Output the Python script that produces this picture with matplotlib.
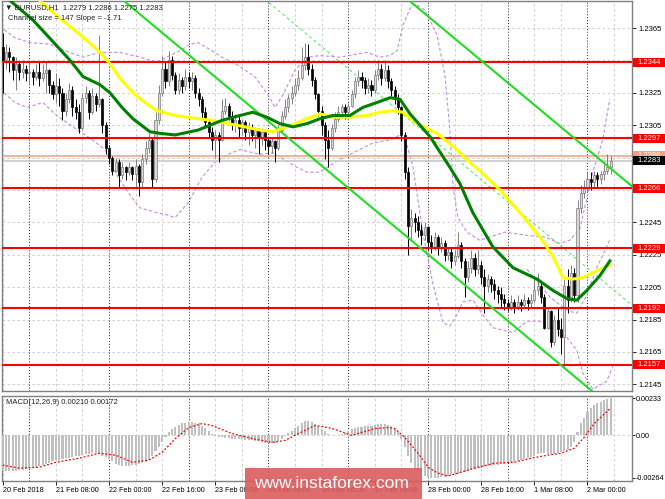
import matplotlib
matplotlib.use("Agg")
import matplotlib.pyplot as plt
import matplotlib.transforms as mtransforms
from matplotlib.patches import Rectangle

plt.rcParams['font.family'] = ['Liberation Sans', 'DejaVu Sans']

# ---------------- data (EURUSD H1, 20 Feb 16:00 .. 2 Mar 07:00) ----------------
first_open = 1.2353
closes = [
    1.2345, 1.2350, 1.2347, 1.2339, 1.2343, 1.2338, 1.2340, 1.2337,
    1.2338, 1.2335, 1.2338, 1.2334, 1.2337, 1.2339, 1.2330, 1.2324,
    1.2329, 1.2325, 1.2314, 1.2321, 1.2327, 1.2316, 1.2313, 1.2303,
    1.2322, 1.2325, 1.2313, 1.2323, 1.2318, 1.2321, 1.2305, 1.2291,
    1.2285, 1.2277, 1.2282, 1.2274, 1.2279, 1.2276, 1.2279, 1.2275,
    1.2280, 1.2270, 1.2284, 1.2291, 1.2296, 1.2272, 1.2308, 1.2325,
    1.2340, 1.2332, 1.2345, 1.2336, 1.2327, 1.2333, 1.2329, 1.2335,
    1.2332, 1.2334, 1.2325, 1.2321, 1.2313, 1.2307, 1.2301, 1.2296,
    1.2299, 1.2296, 1.2314, 1.2317, 1.2311, 1.2305, 1.2308, 1.2303,
    1.2307, 1.2301, 1.2304, 1.2299, 1.2302, 1.2297, 1.2301, 1.2296,
    1.2292, 1.2295, 1.2291, 1.2302, 1.2311, 1.2316, 1.2322, 1.2325,
    1.2330, 1.2334, 1.2342, 1.2347, 1.2340, 1.2333, 1.2324, 1.2314,
    1.2305, 1.2296, 1.2291, 1.2303, 1.2309, 1.2313, 1.2316, 1.2313,
    1.2317, 1.2324, 1.2332, 1.2335, 1.2333, 1.2328, 1.2330, 1.2327,
    1.2336, 1.2340, 1.2334, 1.2339, 1.2332, 1.2327, 1.2322, 1.2316,
    1.2299, 1.2276, 1.2243, 1.2248, 1.2245, 1.2240, 1.2237, 1.2242,
    1.2233, 1.2230, 1.2236, 1.2229, 1.2232, 1.2225, 1.2227, 1.2221,
    1.2224, 1.2231, 1.2221, 1.2211, 1.2217, 1.2223, 1.2216, 1.2219,
    1.2211, 1.2206, 1.2210, 1.2207, 1.2203, 1.2201, 1.2198, 1.2195,
    1.2193, 1.2196, 1.2192, 1.2196, 1.2194, 1.2197, 1.2195, 1.2197,
    1.2203, 1.2206, 1.2199, 1.2180, 1.2190, 1.2171, 1.2185, 1.2179,
    1.2174, 1.2206, 1.2197, 1.2214, 1.2200, 1.2254, 1.2263, 1.2267,
    1.2272, 1.2270, 1.2274, 1.2272, 1.2275, 1.2277, 1.2279, 1.2283,
]
highs = [
    1.2362, 1.2355, 1.2353, 1.2348, 1.2347, 1.2344, 1.2345, 1.2342,
    1.2344, 1.2340, 1.2343, 1.2344, 1.2343, 1.2344, 1.2340, 1.2332,
    1.2337, 1.2334, 1.2328, 1.2325, 1.2331, 1.2329, 1.2321, 1.2318,
    1.2325, 1.2329, 1.2327, 1.2328, 1.2325, 1.2361, 1.2322, 1.2307,
    1.2293, 1.2286, 1.2285, 1.2284, 1.2282, 1.2280, 1.2282, 1.2280,
    1.2284, 1.2281, 1.2287, 1.2295, 1.2300, 1.2298, 1.2313, 1.2330,
    1.2348, 1.2344, 1.2351, 1.2348, 1.2338, 1.2337, 1.2335, 1.2340,
    1.2338, 1.2338, 1.2336, 1.2328, 1.2323, 1.2316, 1.2309, 1.2304,
    1.2302, 1.2301, 1.2321, 1.2322, 1.2319, 1.2314, 1.2312, 1.2311,
    1.2309, 1.2308, 1.2307, 1.2306, 1.2304, 1.2303, 1.2303, 1.2302,
    1.2298, 1.2297, 1.2296, 1.2305, 1.2314, 1.2321, 1.2324, 1.2329,
    1.2334, 1.2339, 1.2353, 1.2356, 1.2355, 1.2343, 1.2335, 1.2325,
    1.2317, 1.2307, 1.2302, 1.2306, 1.2313, 1.2317, 1.2318, 1.2318,
    1.2319, 1.2327, 1.2335, 1.2339, 1.2338, 1.2335, 1.2334, 1.2333,
    1.2339, 1.2345, 1.2343, 1.2345, 1.2342, 1.2334, 1.2329, 1.2324,
    1.2317, 1.2301, 1.2279, 1.2253, 1.2251, 1.2249, 1.2244, 1.2245,
    1.2243, 1.2237, 1.2239, 1.2237, 1.2236, 1.2234, 1.2230, 1.2229,
    1.2228, 1.2239, 1.2233, 1.2223, 1.2221, 1.2228, 1.2226, 1.2228,
    1.2221, 1.2216, 1.2213, 1.2212, 1.2210, 1.2206, 1.2205, 1.2201,
    1.2198, 1.2200, 1.2198, 1.2200, 1.2198, 1.2201, 1.2199, 1.2201,
    1.2211, 1.2214, 1.2208, 1.2201, 1.2193, 1.2191, 1.2188, 1.2193,
    1.2186, 1.2210, 1.2216, 1.2219, 1.2217, 1.2259, 1.2268, 1.2271,
    1.2276, 1.2276, 1.2277, 1.2276, 1.2277, 1.2281, 1.2287, 1.2286,
]
lows = [
    1.2325, 1.2340, 1.2338, 1.2333, 1.2327, 1.2333, 1.2334, 1.2332,
    1.2330, 1.2330, 1.2333, 1.2329, 1.2332, 1.2325, 1.2325, 1.2321,
    1.2319, 1.2317, 1.2308, 1.2311, 1.2319, 1.2311, 1.2309, 1.2300,
    1.2302, 1.2319, 1.2309, 1.2312, 1.2314, 1.2316, 1.2300, 1.2287,
    1.2281, 1.2274, 1.2276, 1.2267, 1.2272, 1.2271, 1.2274, 1.2271,
    1.2267, 1.2261, 1.2267, 1.2281, 1.2288, 1.2266, 1.2270, 1.2306,
    1.2323, 1.2328, 1.2329, 1.2333, 1.2324, 1.2324, 1.2325, 1.2327,
    1.2328, 1.2327, 1.2322, 1.2317, 1.2309, 1.2303, 1.2298, 1.2290,
    1.2285, 1.2282, 1.2295, 1.2312, 1.2308, 1.2302, 1.2301, 1.2297,
    1.2299, 1.2296, 1.2293, 1.2295, 1.2291, 1.2287, 1.2293, 1.2290,
    1.2287, 1.2288, 1.2282, 1.2290, 1.2300, 1.2309, 1.2313, 1.2318,
    1.2323, 1.2327, 1.2333, 1.2339, 1.2336, 1.2329, 1.2321, 1.2311,
    1.2299, 1.2284, 1.2279, 1.2290, 1.2301, 1.2307, 1.2311, 1.2309,
    1.2311, 1.2316, 1.2322, 1.2329, 1.2328, 1.2324, 1.2325, 1.2323,
    1.2325, 1.2333, 1.2330, 1.2332, 1.2328, 1.2323, 1.2318, 1.2312,
    1.2295, 1.2272, 1.2225, 1.2234, 1.2239, 1.2236, 1.2231, 1.2234,
    1.2228, 1.2226, 1.2228, 1.2225, 1.2227, 1.2221, 1.2222, 1.2217,
    1.2219, 1.2223, 1.2217, 1.2199, 1.2208, 1.2214, 1.2212, 1.2213,
    1.2207, 1.2189, 1.2202, 1.2202, 1.2198, 1.2195, 1.2193, 1.2191,
    1.2190, 1.2191, 1.2189, 1.2191, 1.2190, 1.2192, 1.2191, 1.2192,
    1.2195, 1.2200, 1.2195, 1.2179, 1.2179, 1.2168, 1.2169, 1.2175,
    1.2164, 1.2156, 1.2189, 1.2196, 1.2196, 1.2196, 1.2251, 1.2260,
    1.2264, 1.2265, 1.2267, 1.2267, 1.2269, 1.2271, 1.2275, 1.2275,
]

# moving averages (bar index, price)
yellow_bars = [10.6, 17.2, 23.3, 29.3, 32.3, 35.3, 39.2, 42.8, 46.4, 51.9, 58.8, 63.0, 67.8,
               72.9, 77.4, 81.3, 85.6, 91.6, 95.5, 99.4, 104.5, 109.6, 113.5, 117.5, 120.5,
               124.7, 130.7, 136.7, 140.6, 143.6, 149.7, 155.7, 161.7, 165.6, 168.6, 171.6,
               174.6, 179.7, 183.0]
yellow_vals = [1.2383, 1.2371, 1.2361, 1.2350, 1.2343, 1.2334, 1.2325, 1.2319, 1.2314, 1.2311,
               1.2309, 1.2308, 1.2306, 1.2304, 1.2302, 1.2301, 1.2304, 1.2309, 1.2312, 1.2310,
               1.2310, 1.2311, 1.2313, 1.2314, 1.2313, 1.2306, 1.2300, 1.2290, 1.2282, 1.2277,
               1.2265, 1.2251, 1.2236, 1.2224, 1.2211, 1.2210, 1.2211, 1.2216, 1.2219]
green_bars = [1.6, 9.1, 16.3, 20.3, 24.2, 29.3, 32.3, 35.9, 39.2, 44.3, 47.3, 51.9, 58.8, 66.0,
              71.4, 75.3, 79.5, 83.4, 87.4, 91.6, 95.5, 99.4, 104.5, 108.4, 112.6, 116.6, 119.6,
              122.6, 128.6, 134.6, 137.6, 141.5, 147.5, 153.6, 160.8, 165.6, 169.8, 172.8, 175.8,
              179.7, 183.0]
green_vals = [1.2383, 1.2370, 1.2354, 1.2345, 1.2335, 1.2330, 1.2325, 1.2316, 1.2309, 1.2301,
              1.2300, 1.2299, 1.2302, 1.2308, 1.2311, 1.2313, 1.2310, 1.2306, 1.2304, 1.2306,
              1.2309, 1.2311, 1.2311, 1.2316, 1.2319, 1.2322, 1.2321, 1.2312, 1.2298, 1.2279,
              1.2269, 1.2251, 1.2230, 1.2217, 1.2210, 1.2203, 1.2198, 1.2197, 1.2203, 1.2212,
              1.2222]

# Bollinger-type envelope (violet dashed)
upper_bars = [0.4, 3.7, 8.2, 14.2, 18.7, 24.2, 29.3, 35.3, 41.3, 46.4, 50.3, 53.4, 56.4, 58.8,
              63.0, 66.0, 70.8, 75.9, 79.8, 82.0, 84.4, 88.0, 91.6, 95.5, 101.5, 109.6, 113.5,
              116.5, 118.7, 120.5, 122.6, 124.1, 127.1, 130.7, 133.1, 134.6, 135.5, 137.0, 139.7,
              143.6, 151.2, 157.8, 163.2, 167.7, 170.7, 173.7, 177.6, 180.6, 182.7]
upper_vals = [1.2364, 1.2359, 1.2356, 1.2355, 1.2351, 1.2347, 1.2350, 1.2350, 1.2347, 1.2344,
              1.2348, 1.2351, 1.2355, 1.2356, 1.2351, 1.2347, 1.2342, 1.2335, 1.2324, 1.2316,
              1.2324, 1.2339, 1.2347, 1.2348, 1.2347, 1.2350, 1.2347, 1.2348, 1.2351, 1.2367,
              1.2377, 1.2380, 1.2376, 1.2361, 1.2336, 1.2302, 1.2268, 1.2248, 1.2239, 1.2234,
              1.2239, 1.2237, 1.2236, 1.2232, 1.2234, 1.2241, 1.2276, 1.2296, 1.2321]
lower_bars = [0.4, 3.7, 7.3, 12.1, 16.3, 21.8, 26.3, 30.8, 34.4, 38.3, 41.3, 46.4, 48.8, 51.9,
              55.8, 60.0, 63.9, 67.8, 71.4, 77.4, 81.3, 88.6, 91.6, 95.5, 101.5, 111.4, 116.6,
              119.6, 121.4, 123.5, 126.5, 129.5, 132.5, 134.6, 136.7, 138.5, 141.5, 144.5, 147.5,
              153.6, 157.8, 161.7, 165.6, 167.7, 169.8, 172.8, 174.6, 177.6, 181.8, 183.6]
lower_vals = [1.2325, 1.2319, 1.2316, 1.2319, 1.2311, 1.2303, 1.2297, 1.2290, 1.2274, 1.2262,
              1.2254, 1.2251, 1.2250, 1.2248, 1.2257, 1.2273, 1.2282, 1.2287, 1.2290, 1.2287,
              1.2288, 1.2279, 1.2276, 1.2276, 1.2284, 1.2294, 1.2296, 1.2299, 1.2295, 1.2279,
              1.2238, 1.2207, 1.2183, 1.2181, 1.2188, 1.2196, 1.2197, 1.2188, 1.2180, 1.2177,
              1.2184, 1.2184, 1.2180, 1.2176, 1.2174, 1.2166, 1.2152, 1.2142, 1.2147, 1.2156]
middle_bars = [157.8, 161.7, 164.7, 167.7, 170.7, 172.8, 175.8, 178.8, 182.7]
middle_vals = [1.2216, 1.2206, 1.2199, 1.2194, 1.2190, 1.2189, 1.2200, 1.2217, 1.2234]

# regression channel
channel_anchor_bar = 123.2
channel_anchor_upper = 1.23805
channel_slope = -0.000171
channel_size = 0.0147

# horizontal levels
levels = [1.2344, 1.2297, 1.2266, 1.2229, 1.2192, 1.2157]
level_labels = ['1.2344', '1.2297', '1.2266', '1.2229', '1.2192', '1.2157']
ask_level, ask_label = 1.2286, '1.2286'
bid_level, bid_label = 1.2283, '1.2283'

price_ticks = [1.2145, 1.2165, 1.2185, 1.2205, 1.2225, 1.2245, 1.2265, 1.2285, 1.2305,
               1.2325, 1.2345, 1.2365]
price_tick_labels = ['1.2145', '1.2165', '1.2185', '1.2205', '1.2225', '1.2245', '', '',
                     '1.2305', '1.2325', '', '1.2365']

# MACD(12,26,9)
macd_hist = [
    -0.00220, -0.00222, -0.00223, -0.00222, -0.00220, -0.00218, -0.00215, -0.00210,
    -0.00205, -0.00200, -0.00195, -0.00190, -0.00185, -0.00178, -0.00170, -0.00162,
    -0.00155, -0.00150, -0.00146, -0.00142, -0.00138, -0.00133, -0.00128, -0.00125,
    -0.00122, -0.00118, -0.00114, -0.00111, -0.00110, -0.00115, -0.00125, -0.00135,
    -0.00145, -0.00160, -0.00175, -0.00185, -0.00188, -0.00190, -0.00188, -0.00185,
    -0.00182, -0.00178, -0.00172, -0.00165, -0.00150, -0.00130, -0.00100, -0.00070,
    -0.00040, -0.00010, 0.00020, 0.00040, 0.00055, 0.00068, 0.00075, 0.00080,
    0.00082, 0.00083, 0.00080, 0.00075, 0.00060, 0.00045, 0.00030, 0.00010,
    -0.00005, -0.00010, -0.00012, -0.00015, -0.00018, -0.00020, -0.00020, -0.00022,
    -0.00025, -0.00027, -0.00028, -0.00030, -0.00032, -0.00035, -0.00040, -0.00045,
    -0.00048, -0.00050, -0.00045, -0.00035, -0.00020, -0.00005, 0.00015, 0.00030,
    0.00045, 0.00060, 0.00075, 0.00088, 0.00092, 0.00085, 0.00072, 0.00058,
    0.00040, 0.00025, 0.00012, 0.00005, 0.00002, 0.00003, 0.00008, 0.00018,
    0.00028, 0.00038, 0.00045, 0.00050, 0.00053, 0.00056, 0.00058, 0.00062,
    0.00066, 0.00070, 0.00072, 0.00070, 0.00065, 0.00058, 0.00048, 0.00030,
    -0.00020, -0.00070, -0.00130, -0.00170, -0.00200, -0.00225, -0.00245, -0.00255,
    -0.00260, -0.00263, -0.00264, -0.00264, -0.00262, -0.00258, -0.00253, -0.00248,
    -0.00243, -0.00238, -0.00233, -0.00228, -0.00222, -0.00216, -0.00210, -0.00205,
    -0.00200, -0.00197, -0.00193, -0.00190, -0.00187, -0.00184, -0.00180, -0.00176,
    -0.00172, -0.00168, -0.00163, -0.00158, -0.00153, -0.00148, -0.00143, -0.00135,
    -0.00125, -0.00115, -0.00112, -0.00112, -0.00113, -0.00115, -0.00113, -0.00110,
    -0.00105, -0.00100, -0.00090, -0.00070, -0.00040, 0.00020, 0.00080, 0.00110,
    0.00145, 0.00170, 0.00188, 0.00200, 0.00210, 0.00220, 0.00228, 0.00233,
]
signal_bars = [0, 5, 11, 16, 23, 29, 34, 39, 44, 48, 52, 56, 60, 63, 69, 75, 81, 85, 89, 94,
               98, 101, 105, 108, 112, 116, 118, 121, 125, 128, 131, 134, 137, 142, 148, 154,
               159, 164, 168, 172, 175, 178, 183]
signal_vals = [-0.00185, -0.00204, -0.00198, -0.00167, -0.00142, -0.00111, -0.00123, -0.00167,
               -0.00154, -0.00105, -0.00019, 0.00049, 0.00074, 0.00062, 0.00012, -0.00019,
               -0.00043, -0.00031, 0.00012, 0.00062, 0.00049, 0.00031, 0.00000, 0.00019,
               0.00043, 0.00049, 0.00043, -0.00012, -0.00111, -0.00198, -0.00235, -0.00253,
               -0.00235, -0.00204, -0.00173, -0.00167, -0.00142, -0.00123, -0.00111, -0.00080,
               -0.00012, 0.00074, 0.00172]
macd_max, macd_min = 0.00233, -0.00264

time_label_bars = [0, 16, 32, 48, 64, 80, 96, 112, 128, 144, 160, 176]
time_labels = ['20 Feb 2018', '21 Feb 08:00', '22 Feb 00:00', '22 Feb 16:00', '23 Feb 08:00',
               '26 Feb 00:00', '26 Feb 16:00', '27 Feb 08:00', '28 Feb 00:00', '28 Feb 16:00',
               '1 Mar 08:00', '2 Mar 00:00']
day_start_bars = [8, 32, 56, 80, 104, 128, 152, 176]

title_text = '\u25BC EURUSD,H1  1.2279 1.2286 1.2275 1.2283'
channel_text = 'Channel size = 147 Slope = -1.71'
macd_text = 'MACD(12,26,9) 0.00210 0.00172'
watermark = 'www.instaforex.com'

# ---------------- figure ----------------
W, H = 665, 499
fig = plt.figure(figsize=(W / 100, H / 100), dpi=100)
fig.patch.set_facecolor('white')


def fx(px):
    return px / W


def fy(py):
    return 1 - py / H


L, R = 2, 632
ax = fig.add_axes([fx(L), fy(391), fx(R) - fx(L), fy(1) - fy(391)])
ax2 = fig.add_axes([fx(L), fy(481), fx(R) - fx(L), fy(396) - fy(481)], sharex=ax)

n = len(closes)
bars = list(range(n))
opens = [first_open] + closes[:-1]

ax.set_xlim(-0.2, 189.4)
ax.set_ylim(1.21409, 1.23817)
ax2.set_ylim(-0.00284, 0.00246)

gridc = '#c8c8c8'
for a in (ax, ax2):
    for b in range(0, 190, 8):
        if b in day_start_bars:
            a.axvline(b, color='#202020', lw=0.7, ls=(0, (1, 2)), zorder=0.6)
        else:
            a.axvline(b, color=gridc, lw=0.6, ls=(0, (3, 3)), zorder=0.5)
    for s in a.spines.values():
        s.set_color('#808080')
        s.set_linewidth(1.0)
    a.set_facecolor('white')

for t in price_ticks:
    ax.axhline(t, color=gridc, lw=0.6, ls=(0, (3, 3)), zorder=0.5)
ax2.axhline(0, color=gridc, lw=0.6, ls=(0, (3, 3)), zorder=0.5)

# envelope
band_c = '#c48de0'
ax.plot(upper_bars, upper_vals, color=band_c, lw=0.8, ls=(0, (3, 2)), zorder=1)
ax.plot(lower_bars, lower_vals, color=band_c, lw=0.8, ls=(0, (3, 2)), zorder=1)
ax.plot(middle_bars, middle_vals, color=band_c, lw=0.8, ls=(0, (3, 2)), zorder=1)

# channel
ch_x = [-1, 190]
ch_up = [channel_anchor_upper + channel_slope * (b - channel_anchor_bar) for b in ch_x]
ch_lo = [v - channel_size for v in ch_up]
ch_mid = [v - channel_size / 2 for v in ch_up]
ax.plot(ch_x, ch_up, color='#22dd22', lw=1.5, zorder=6)
ax.plot(ch_x, ch_lo, color='#22dd22', lw=1.5, zorder=6)
ax.plot(ch_x, ch_mid, color='#44ee44', lw=0.7, ls=(0, (3, 3)), zorder=1.2)

# levels
for lv in levels:
    ax.axhline(lv, color='#ff0000', lw=1.5, zorder=5)
ax.axhline(ask_level, color='#f5a788', lw=1.2, zorder=1.5)
ax.axhline(bid_level, color='#c8c8c8', lw=1.2, zorder=1.5)

# candles
bull = [c >= o for o, c in zip(opens, closes)]
wick_c = ['#808080' if b else '#000000' for b in bull]
ax.vlines(bars, lows, highs, colors=wick_c, lw=0.7, zorder=3)
body_h = [max(abs(c - o), 0.00003) for o, c in zip(opens, closes)]
body_b = [min(o, c) for o, c in zip(opens, closes)]
face = ['#d8d8d8' if b else '#000000' for b in bull]
edge = ['#7a7a7a' if b else '#000000' for b in bull]
ax.bar(bars, body_h, bottom=body_b, width=0.62, color=face, edgecolor=edge,
       linewidth=0.5, zorder=4)

# moving averages
ax.plot(yellow_bars, yellow_vals, color='#ffff00', lw=2.2, zorder=6.5, solid_capstyle='butt')
ax.plot(green_bars, green_vals, color='#008000', lw=2.2, zorder=7, solid_capstyle='butt')

# right axis
ax.yaxis.tick_right()
ax.set_yticks(price_ticks)
ax.set_yticklabels(price_tick_labels)
ax.tick_params(axis='y', length=3, width=0.6, pad=1.5, labelsize=5.5, colors='black')
ax.tick_params(axis='x', bottom=False, labelbottom=False)

tr = mtransforms.blended_transform_factory(ax.transAxes, ax.transData)
box_x0 = (633 - L) / (R - L)
box_w = (665 - 633) / (R - L)
box_h = 9 / 16200.0
txt_x = (637 - L) / (R - L)


def price_box(val, label, fc, z):
    ax.add_patch(Rectangle((box_x0, val - box_h / 2), box_w, box_h, transform=tr,
                           facecolor=fc, edgecolor='none', clip_on=False, zorder=z))
    ax.text(txt_x, val, label, transform=tr, color='white', fontsize=5.5,
            va='center', ha='left', clip_on=False, zorder=z + 0.1)


for lv, lb in zip(levels, level_labels):
    price_box(lv, lb, '#ff0000', 8)
price_box(ask_level, ask_label, '#f5a07a', 8)
price_box(bid_level, bid_label, '#000000', 9)

# MACD
ax2.bar(bars, macd_hist, width=0.62, color='#c0c0c0', zorder=3)
ax2.plot(signal_bars, signal_vals, color='#ff0000', lw=0.9, ls=(0, (1.5, 1.5)), zorder=4)
ax2.yaxis.tick_right()
ax2.set_yticks([macd_max, 0.0, macd_min])
ax2.set_yticklabels(['0.00233', '0.00', '-0.00264'])
ax2.tick_params(axis='y', length=2, width=0.6, pad=0.5, labelsize=5.2, colors='black')
ax2.set_xticks(time_label_bars)
ax2.set_xticklabels(time_labels, ha='left')
ax2.tick_params(axis='x', length=3, width=0.6, pad=1.5, labelsize=5.2, colors='black')
ax2.set_xlim(-0.2, 189.4)

# texts
fig.text(fx(5), fy(8), title_text, fontsize=5.5, va='center', ha='left', color='#202020')
fig.text(fx(8), fy(19), channel_text, fontsize=5.5, va='center', ha='left', color='#202020')
fig.text(fx(6), fy(402), macd_text, fontsize=5.5, va='center', ha='left', color='#202020')

# watermark
fig.add_artist(Rectangle((fx(245), 0), fx(422) - fx(245), 31 / H, transform=fig.transFigure,
                         facecolor=(0.86, 0.36, 0.36), alpha=0.9, edgecolor='none', zorder=10))
fig.text(fx(331), fy(488), watermark, fontsize=12.5, color='white', ha='center',
         va='baseline', zorder=11)

fig.savefig('out.png', dpi=100)
